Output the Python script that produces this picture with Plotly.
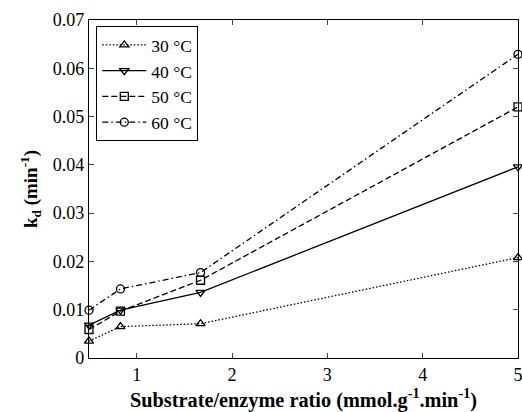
import plotly.graph_objects as go

ratio = [0.5, 0.83, 1.67, 5.0]
kd_30 = [0.0035, 0.0065, 0.0071, 0.0208]
kd_40 = [0.0068, 0.0099, 0.0136, 0.0396]
kd_50 = [0.0059, 0.0097, 0.0161, 0.0520]
kd_60 = [0.0099, 0.0143, 0.0177, 0.0629]
labels = ["30 °C", "40 °C", "50 °C", "60 °C"]

series = [kd_30, kd_40, kd_50, kd_60]
dashes = ["1.5px,2px", "solid", "6px,3px", "6px,3px,1.5px,3px"]
symbols = ["triangle-up-open", "triangle-down-open", "square-open", "circle-open"]

FAM = "Liberation Serif"

fig = go.Figure()
for y, lab, d, s in zip(series, labels, dashes, symbols):
    fig.add_trace(go.Scatter(
        x=ratio, y=y, name=lab, mode="lines+markers",
        line=dict(color="black", width=1.3, dash=d),
        marker=dict(symbol=s, size=8, color="black", line=dict(width=1.3, color="black")),
        cliponaxis=False,
    ))

fig.update_layout(
    width=522, height=412,
    margin=dict(l=89, r=4, t=20, b=54, autoexpand=False),
    paper_bgcolor="white", plot_bgcolor="white",
    font=dict(family=FAM, size=18, color="black"),
    showlegend=True,
    legend=dict(x=0.017, y=0.982, xanchor="left", yanchor="top",
                bordercolor="black", borderwidth=1, bgcolor="white",
                font=dict(family=FAM, size=17.5, color="black"),
                tracegroupgap=0, itemwidth=44),
    xaxis=dict(range=[0.5, 5], tickvals=[1, 2, 3, 4, 5], ticks="inside", ticklen=5,
               showline=True, linecolor="black", linewidth=1.2, mirror="ticks",
               showgrid=False, zeroline=False, ticklabeloverflow="allow",
               tickfont=dict(family=FAM, size=18, color="black"),
               title=dict(text="<b>Substrate/enzyme ratio (mmol.g<sup>-1</sup>.min<sup>-1</sup>)</b>",
                          font=dict(family=FAM, size=20.3, color="black"), standoff=9)),
    yaxis=dict(range=[0, 0.07], tickvals=[0, 0.01, 0.02, 0.03, 0.04, 0.05, 0.06, 0.07],
               ticktext=["0", "0.01", "0.02", "0.03", "0.04", "0.05", "0.06", "0.07"],
               ticks="inside", ticklen=5,
               showline=True, linecolor="black", linewidth=1.2, mirror="ticks",
               showgrid=False, zeroline=False, ticklabeloverflow="allow",
               tickfont=dict(family=FAM, size=18, color="black"),
               title=dict(text="<b>k<sub>d</sub> (min<sup>-1</sup>)</b>",
                          font=dict(family=FAM, size=19, color="black"), standoff=10)),
)
fig.write_html("out.html", config={"displayModeBar": False},
               post_script="document.body.style.margin='0';")
